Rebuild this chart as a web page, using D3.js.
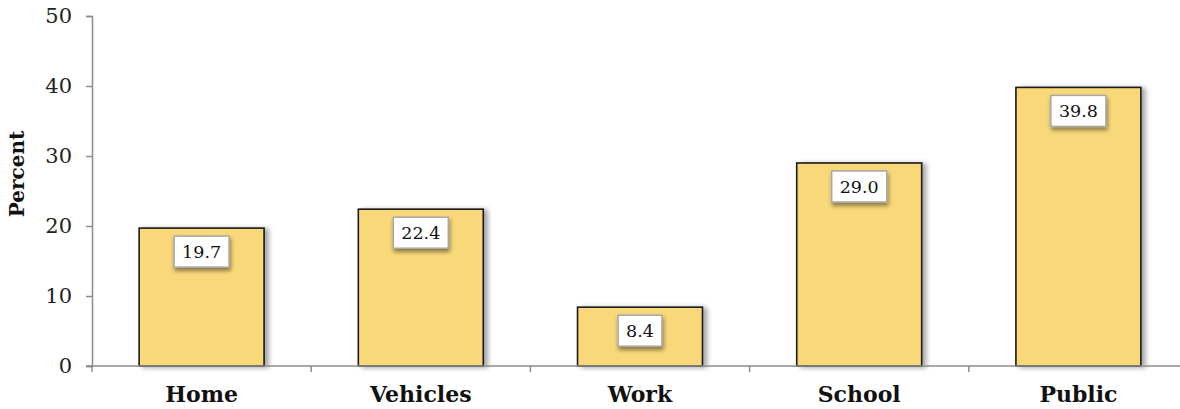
<!DOCTYPE html>
<html>
<head>
<meta charset="utf-8">
<script src="https://cdn.jsdelivr.net/npm/d3@7"></script>
<style>
  html, body { margin: 0; padding: 0; background: #fff; }
  svg { display: block; }
</style>
</head>
<body>
<svg id="chart" width="1180" height="409"></svg>
<script>
// Share of respondents by location (percent)
const categories = ["Home", "Vehicles", "Work", "School", "Public"];
const values = [19.7, 22.4, 8.4, 29.0, 39.8];
const yTicks = [0, 10, 20, 30, 40, 50];
const yTitle = "Percent";

const W = 1180, H = 409;
const margin = { top: 16, right: -8, bottom: 43, left: 92 };
const serif = "'DejaVu Serif', Georgia, serif";

const svg = d3.select("#chart");

const defs = svg.append("defs");
const barShadow = defs.append("filter").attr("id", "barShadow")
  .attr("x", "-10%").attr("y", "-10%").attr("width", "130%").attr("height", "120%");
barShadow.append("feDropShadow").attr("dx", 4).attr("dy", 1).attr("stdDeviation", 2.5)
  .attr("flood-color", "#000").attr("flood-opacity", 0.35);
const boxShadow = defs.append("filter").attr("id", "boxShadow")
  .attr("x", "-20%").attr("y", "-20%").attr("width", "150%").attr("height", "170%");
boxShadow.append("feDropShadow").attr("dx", 1).attr("dy", 3).attr("stdDeviation", 2)
  .attr("flood-color", "#000").attr("flood-opacity", 0.45);

const x = d3.scaleBand()
  .domain(categories)
  .range([margin.left, W - margin.right])
  .paddingInner(0).paddingOuter(0);

const y = d3.scaleLinear()
  .domain([0, 50])
  .range([H - margin.bottom, margin.top]);

const barW = x.bandwidth() * 0.57;
const barX = d => x(d) + (x.bandwidth() - barW) / 2;

// Y axis
const yAxis = svg.append("g")
  .attr("transform", `translate(${margin.left},0)`)
  .call(d3.axisLeft(y).tickValues(yTicks).tickSize(6).tickPadding(14).tickFormat(d3.format("d")));
yAxis.select(".domain").attr("stroke", "#8c8c8c").attr("stroke-width", 1.5);
yAxis.selectAll(".tick line").attr("stroke", "#8c8c8c").attr("stroke-width", 1.5);
yAxis.selectAll(".tick text")
  .attr("fill", "#222").style("font-family", serif).style("font-size", "21px");

// Bars
svg.append("g").selectAll("rect")
  .data(categories)
  .join("rect")
  .attr("x", d => barX(d))
  .attr("y", (d, i) => y(values[i]))
  .attr("width", barW)
  .attr("height", (d, i) => y(0) - y(values[i]))
  .attr("fill", "#f9d87a")
  .attr("stroke", "#1a1a1a")
  .attr("stroke-width", 1.6)
  .attr("filter", "url(#barShadow)");

// X axis
const xAxis = svg.append("g")
  .attr("transform", `translate(0,${y(0)})`);
xAxis.append("line")
  .attr("x1", margin.left - 6).attr("x2", W)
  .attr("y1", 0).attr("y2", 0)
  .attr("stroke", "#8c8c8c").attr("stroke-width", 1.5);
xAxis.selectAll("line.btick")
  .data(categories)
  .join("line")
  .attr("class", "btick")
  .attr("x1", d => x(d)).attr("x2", d => x(d))
  .attr("y1", 0).attr("y2", 6)
  .attr("stroke", "#8c8c8c").attr("stroke-width", 1.5);
xAxis.selectAll("text")
  .data(categories)
  .join("text")
  .attr("x", d => x(d) + x.bandwidth() / 2)
  .attr("y", 36)
  .attr("text-anchor", "middle")
  .attr("fill", "#111")
  .style("font-family", serif)
  .style("font-weight", "bold")
  .style("font-size", "22px")
  .text(d => d);

// Value labels in white boxes
const labels = svg.append("g").selectAll("g")
  .data(categories)
  .join("g")
  .attr("transform", (d, i) => `translate(${x(d) + x.bandwidth() / 2},${y(values[i]) + 8})`);
labels.append("text")
  .attr("text-anchor", "middle")
  .attr("y", 22)
  .attr("fill", "#111")
  .style("font-family", serif)
  .style("font-size", "17.5px")
  .text((d, i) => d3.format(".1f")(values[i]));
labels.insert("rect", "text")
  .each(function () {
    const t = this.parentNode.querySelector("text").getBBox();
    d3.select(this)
      .attr("x", t.x - 8).attr("width", t.width + 16)
      .attr("y", 0).attr("height", 31);
  })
  .attr("fill", "#fff")
  .attr("stroke", "#a8a8a8")
  .attr("stroke-width", 1.5)
  .attr("filter", "url(#boxShadow)");

// Y axis title, sitting a little above the middle of the axis
svg.append("text")
  .attr("transform", `translate(24,${(y(0) + y(50)) / 2 - 17}) rotate(-90)`)
  .attr("text-anchor", "middle")
  .attr("fill", "#111")
  .style("font-family", serif)
  .style("font-weight", "bold")
  .style("font-size", "20px")
  .text(yTitle);
</script>
</body>
</html>
